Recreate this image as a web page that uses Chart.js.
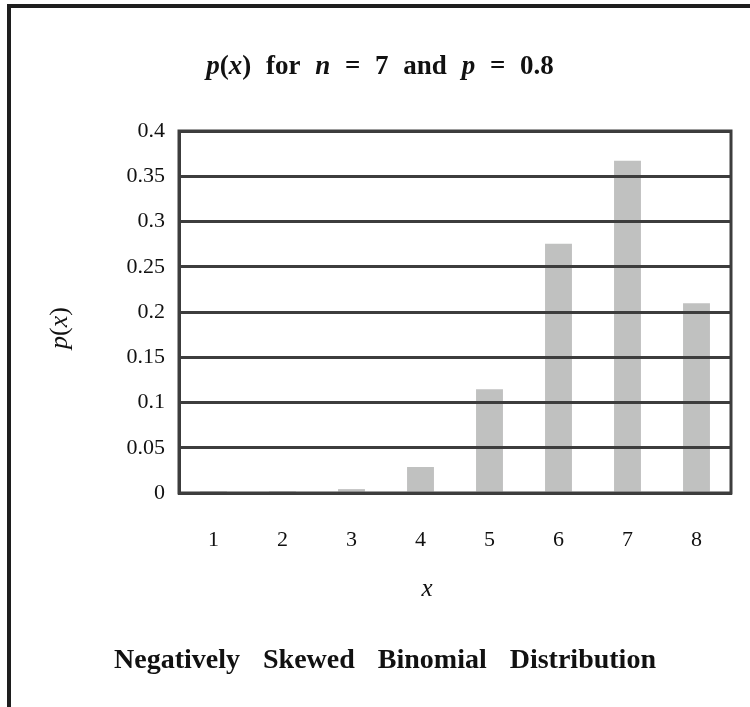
<!DOCTYPE html>
<html lang="en">
<head>
  <meta charset="UTF-8">
  <title>Negatively Skewed Binomial Distribution</title>
  <script src="https://cdn.jsdelivr.net/npm/chart.js"></script>
  <style>
    html, body { margin: 0; padding: 0; background: #fff; }
    canvas { display: block; }
  </style>
</head>
<body>
<canvas id="binomChart" width="750" height="707"></canvas>
<script>
  // values (n = 7, p = 0.8)
  const categories = ['1', '2', '3', '4', '5', '6', '7', '8'];
  const probabilities = [0.00001, 0.0004, 0.0043, 0.0287, 0.1147, 0.2753, 0.367, 0.2097];
  const yTickValues = [0, 0.05, 0.1, 0.15, 0.2, 0.25, 0.3, 0.35, 0.4];
  const yTickLabels = ['0', '0.05', '0.1', '0.15', '0.2', '0.25', '0.3', '0.35', '0.4'];

  const serif = '"Liberation Serif", "Times New Roman", serif';
  const ink = '#111';
  const gridColor = '#3d3d3d';

  // draws a line of text made of plain / italic pieces, centred on cx
  function drawRich(ctx, pieces, cx, cy, size, weight, wordGap) {
    const fontFor = (it) => (it ? 'italic ' : '') + weight + ' ' + size + 'px ' + serif;
    let total = 0;
    const widths = pieces.map(([txt, it]) => {
      ctx.font = fontFor(it);
      let w = ctx.measureText(txt).width + (txt.split(' ').length - 1) * wordGap;
      total += w;
      return w;
    });
    let x = cx - total / 2;
    ctx.textBaseline = 'middle';
    ctx.textAlign = 'left';
    ctx.fillStyle = ink;
    pieces.forEach(([txt, it], i) => {
      ctx.font = fontFor(it);
      let px = x;
      txt.split(/( )/).forEach(part => {
        if (part === ' ') {
          px += ctx.measureText(' ').width + wordGap;
        } else if (part) {
          ctx.fillText(part, px, cy);
          px += ctx.measureText(part).width;
        }
      });
      x += widths[i];
    });
  }

  const decorations = {
    id: 'decorations',
    beforeDraw(chart) {
      const ctx = chart.ctx;
      ctx.save();
      ctx.fillStyle = '#fff';
      ctx.fillRect(0, 0, chart.width, chart.height);
      // outer frame (top and left edges)
      ctx.strokeStyle = '#1e1e1e';
      ctx.lineWidth = 4;
      ctx.beginPath();
      ctx.moveTo(9, chart.height);
      ctx.lineTo(9, 6);
      ctx.lineTo(chart.width, 6);
      ctx.stroke();
      ctx.restore();
    },
    afterDraw(chart) {
      const ctx = chart.ctx;
      const a = chart.chartArea;
      ctx.save();
      ctx.strokeStyle = gridColor;
      ctx.lineWidth = 3;
      ctx.strokeRect(a.left, a.top, a.right - a.left, a.bottom - a.top);

      drawRich(ctx, [['p', true], ['(', false], ['x', true], [') for ', false], ['n', true],
        [' = 7 and ', false], ['p', true], [' = 0.8', false]], 380, 67, 27, 'bold', 8);

      drawRich(ctx, [['x', true]], 427, 589, 25, 'normal', 0);

      drawRich(ctx, [['Negatively Skewed Binomial Distribution', false]], 385, 661, 28, 'bold', 16);

      ctx.translate(60, 328);
      ctx.rotate(-Math.PI / 2);
      drawRich(ctx, [['p', true], ['(', false], ['x', true], [')', false]], 0, 0, 26, 'normal', 0);
      ctx.restore();
    }
  };

  new Chart(document.getElementById('binomChart'), {
    type: 'bar',
    data: {
      labels: categories,
      datasets: [{
        label: 'p(x)',
        data: probabilities,
        backgroundColor: '#c0c1c0',
        borderWidth: 0,
        categoryPercentage: 1,
        barPercentage: 0.39
      }]
    },
    options: {
      responsive: false,
      animation: false,
      layout: { padding: { top: 131, right: 19, left: 0, bottom: 0 } },
      plugins: {
        legend: { display: false },
        title: { display: false },
        tooltip: { enabled: false }
      },
      scales: {
        x: {
          grid: { display: false },
          border: { display: true, color: gridColor, width: 3, z: 1 },
          ticks: { color: ink, padding: 26, font: { family: serif, size: 22 } },
          afterFit(scale) { scale.height = 214; }
        },
        y: {
          min: 0,
          max: 0.4,
          afterBuildTicks(scale) { scale.ticks = yTickValues.map(v => ({ value: v })); },
          grid: { color: gridColor, lineWidth: 3, drawTicks: false, z: 1 },
          border: { display: true, color: gridColor, width: 3, z: 1 },
          ticks: {
            color: ink,
            padding: 14,
            font: { family: serif, size: 22 },
            callback: (v, i) => yTickLabels[i]
          },
          afterFit(scale) { scale.width = 179; }
        }
      }
    },
    plugins: [decorations]
  });
</script>
</body>
</html>
